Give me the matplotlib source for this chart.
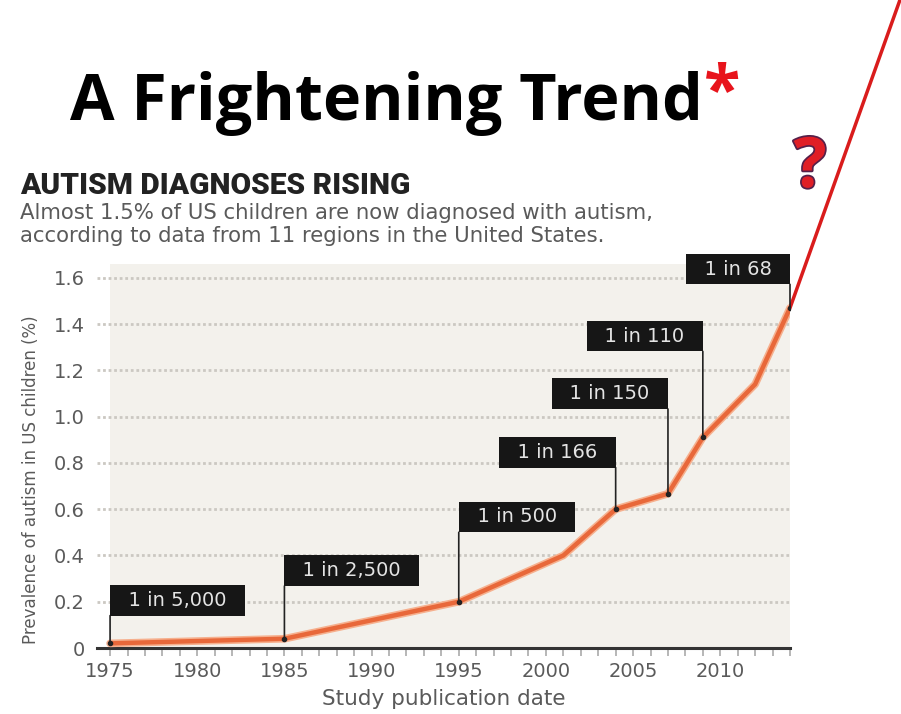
import matplotlib
matplotlib.use('Agg')
import matplotlib.pyplot as plt
import matplotlib.patheffects as pe
from matplotlib.ticker import MultipleLocator

# data
years = [1975, 1985, 1995, 2001, 2004, 2007, 2009, 2012, 2014]
prevalence = [0.02, 0.04, 0.20, 0.40, 0.60, 0.667, 0.91, 1.14, 1.47]

# callouts: year, value, label
callout_years = [1975, 1985, 1995, 2004, 2007, 2009, 2014]
callout_values = [0.02, 0.04, 0.20, 0.60, 0.667, 0.91, 1.47]
callout_labels = ['1 in 5,000', '1 in 2,500', '1 in 500', '1 in 166',
                  '1 in 150', '1 in 110', '1 in 68']

# the red "projection" beyond the last study
proj_years = [2014, 2020.3]
proj_values = [1.47, 2.80]

x_ticks = [1975, 1980, 1985, 1990, 1995, 2000, 2005, 2010]
y_ticks = [0, 0.2, 0.4, 0.6, 0.8, 1.0, 1.2, 1.4, 1.6]
y_ticklabels = ['0', '0.2', '0.4', '0.6', '0.8', '1.0', '1.2', '1.4', '1.6']

gray = '#5a5a5a'
orange = '#e8683a'
red = '#d91c1c'

fig = plt.figure(figsize=(9.01, 7.14), dpi=100)
ax = fig.add_axes([97 / 901, 66 / 714, (790 - 97) / 901, (648 - 264) / 714])

ax.set_xlim(1974.25, 2014)
ax.set_ylim(0, 1.66)
ax.set_facecolor('none')
ax.axvspan(1975, 2014, color='#f3f1ec', zorder=0, lw=0)

for s in ['top', 'right', 'left']:
    ax.spines[s].set_visible(False)
ax.spines['bottom'].set_color('#333333')
ax.spines['bottom'].set_linewidth(2.2)

ax.set_yticks(y_ticks)
ax.set_yticklabels(y_ticklabels)
ax.set_xticks(x_ticks)
ax.xaxis.set_minor_locator(MultipleLocator(1))
ax.tick_params(axis='y', length=0, pad=9, labelsize=14, labelcolor=gray)
ax.tick_params(axis='x', which='both', length=6, width=1.2, color='#aaaaaa',
               pad=4, labelsize=14, labelcolor=gray)
ax.grid(axis='y', color='#cbc8c2', linestyle=(0, (1, 1)), linewidth=2)
ax.set_axisbelow(True)

ax.set_xlabel('Study publication date', fontsize=15.5, color=gray, labelpad=6)
ax.set_ylabel('Prevalence of autism in US children (%)', fontsize=12, color=gray)
ax.yaxis.set_label_coords(-0.082, 0.4375)

# main line
ax.plot(years, prevalence, color='#f6b08e', lw=5.5, solid_capstyle='round', zorder=3)
ax.plot(years, prevalence, color=orange, lw=3.2, solid_capstyle='round', zorder=4)
ax.plot(proj_years, proj_values, color=red, lw=2.5, clip_on=False, zorder=4)
ax.plot(callout_years, callout_values, 'o', color='#222222', ms=3, zorder=5)

# callout boxes: gap above the point (points) and which side of the box sits on the leader line
offsets = [20, 38, 50, 30, 61, 62, 17]
sides = ['left', 'left', 'left', 'right', 'right', 'right', 'right']
fs = 14
pad = 0.3
for yr, val, lab, dy, side in zip(callout_years, callout_values, callout_labels, offsets, sides):
    dx = pad * fs if side == 'left' else -pad * fs
    ax.annotate('', xy=(yr, val), xytext=(0, dy), textcoords='offset points',
                arrowprops=dict(arrowstyle='-', color='#222222', lw=1.2,
                                shrinkA=0, shrinkB=0),
                zorder=5, annotation_clip=False)
    ax.annotate('  ' + lab + '  ', xy=(yr, val), xytext=(dx, dy + pad * fs),
                textcoords='offset points', ha=side, va='bottom',
                fontsize=fs, color='#e4e4e4',
                bbox=dict(boxstyle='square,pad=%s' % pad, fc='#161616', ec='none'),
                zorder=6, annotation_clip=False)

# headings
fig.text(70 / 901, 1 - 120 / 714, 'A Frightening Trend', fontsize=46.5, fontweight='bold',
         family='Open Sans', color='black', ha='left', va='baseline')
fig.text(704 / 901, 1 - 112 / 714, '*', fontsize=48, fontweight='bold',
         family='Open Sans', color='#e8141c', ha='left', va='baseline')
fig.text(20 / 901, 1 - 194 / 714, 'AUTISM DIAGNOSES RISING', fontsize=21.5,
         fontweight='heavy', family='Roboto', color='#222222',
         ha='left', va='baseline')
fig.text(20 / 901, 1 - 219 / 714, 'Almost 1.5% of US children are now diagnosed with autism,',
         fontsize=15.3, color=gray, ha='left', va='baseline')
fig.text(20 / 901, 1 - 242 / 714, 'according to data from 11 regions in the United States.',
         fontsize=15.3, color=gray, ha='left', va='baseline')

fig.text(810 / 901, 1 - 169 / 714, '?', fontsize=50, fontweight='bold', family='Open Sans',
         color='#e01e26', ha='center', va='center',
         path_effects=[pe.withStroke(linewidth=2.5, foreground='#55204a')])

fig.savefig('out.png', dpi=100)
